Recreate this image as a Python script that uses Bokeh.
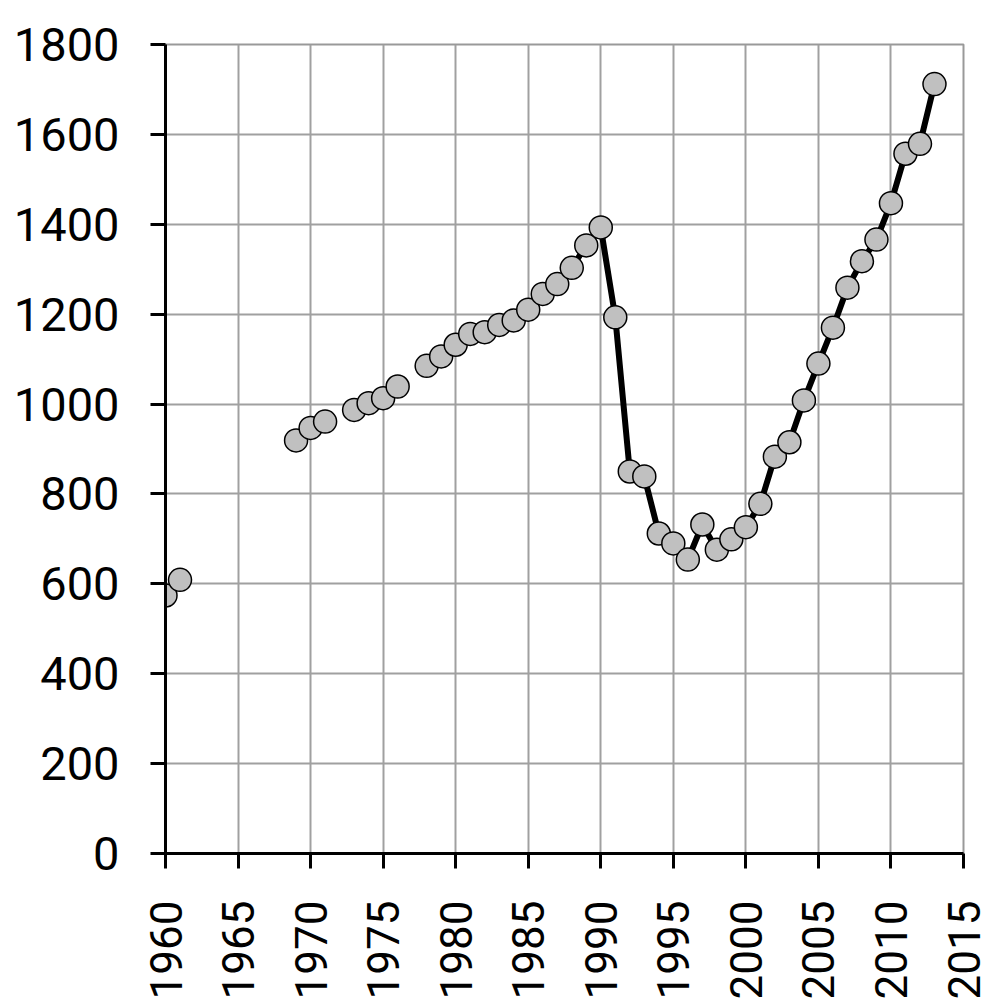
import math
import numpy as np
from bokeh.plotting import figure
from bokeh.models import FixedTicker, ColumnDataSource
from bokeh.embed import file_html
from bokeh.resources import INLINE

years = list(range(1960, 2014))
values_known = {
    1960: 574, 1961: 609,
    1969: 919, 1970: 947, 1971: 961,
    1973: 987, 1974: 1002, 1975: 1013, 1976: 1039,
    1978: 1085, 1979: 1106, 1980: 1132, 1981: 1156, 1982: 1160, 1983: 1176,
    1984: 1186, 1985: 1210, 1986: 1245, 1987: 1267, 1988: 1303, 1989: 1353,
    1990: 1393, 1991: 1193, 1992: 850, 1993: 839, 1994: 712, 1995: 690,
    1996: 654, 1997: 732, 1998: 676, 1999: 699, 2000: 726, 2001: 778,
    2002: 883, 2003: 915, 2004: 1008, 2005: 1090, 2006: 1170, 2007: 1259,
    2008: 1318, 2009: 1366, 2010: 1447, 2011: 1557, 2012: 1579, 2013: 1712,
}
values = [values_known.get(y, np.nan) for y in years]

x_ticks = [1960, 1965, 1970, 1975, 1980, 1985, 1990, 1995, 2000, 2005, 2010, 2015]
y_ticks = [0, 200, 400, 600, 800, 1000, 1200, 1400, 1600, 1800]

FONT = "Roboto"

p = figure(
    frame_width=798, frame_height=809,
    x_range=(1960, 2015), y_range=(0, 1800),
    output_backend="svg", toolbar_location=None,
    min_border_left=165, min_border_top=44, min_border_right=26, min_border_bottom=0,
)
p.background_fill_color = "white"
p.border_fill_color = "white"
p.outline_line_color = "#999999"
p.outline_line_width = 2

for ax in (p.xaxis[0], p.yaxis[0]):
    ax.axis_line_color = "black"
    ax.axis_line_width = 3
    ax.major_tick_line_color = "black"
    ax.major_tick_line_width = 3
    ax.major_tick_out = 15
    ax.major_tick_in = 0
    ax.minor_tick_line_color = None
    ax.major_label_text_font = FONT
    ax.major_label_text_font_size = "47px"
    ax.major_label_text_color = "black"

p.xaxis.major_label_text_font_size = "44px"
p.xaxis.ticker = FixedTicker(ticks=x_ticks)
p.yaxis.ticker = FixedTicker(ticks=y_ticks)
p.xaxis.major_label_orientation = math.pi / 2
p.xaxis.major_label_standoff = 32
p.yaxis.major_label_standoff = 31

p.xgrid.ticker = FixedTicker(ticks=x_ticks)
p.ygrid.ticker = FixedTicker(ticks=y_ticks)
for g in (p.xgrid[0], p.ygrid[0]):
    g.grid_line_color = "#a0a0a0"
    g.grid_line_width = 2

src = ColumnDataSource(data=dict(x=years, y=values))
p.line("x", "y", source=src, line_color="black", line_width=6)
p.scatter("x", "y", source=src, size=23, fill_color="#c0c0c0",
          line_color="black", line_width=1.5)

open("out.html", "w").write(file_html(p, INLINE))
